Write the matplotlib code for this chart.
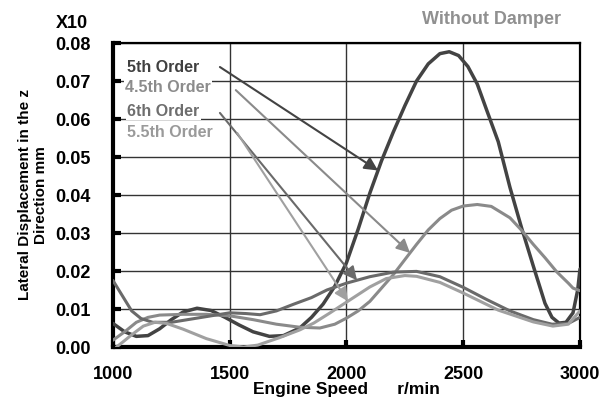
import numpy as np
import matplotlib
matplotlib.use("Agg")
import matplotlib.pyplot as plt

plt.rcParams['font.family'] = ['Liberation Sans', 'DejaVu Sans']
plt.rcParams['font.weight'] = 'bold'

# ---- data (engine speed r/min, lateral displacement mm x10) ----
x_5th = [1000, 1050, 1100, 1150, 1200, 1250, 1300, 1360, 1420, 1480, 1540, 1600, 1670, 1730,
         1800, 1850, 1900, 1950, 2000, 2050, 2100, 2150, 2200, 2250, 2300, 2350, 2400, 2440,
         2480, 2520, 2560, 2600, 2650, 2700, 2750, 2800, 2850, 2880, 2910, 2940, 2970, 2990, 3000]
y_5th = [0.0062, 0.0040, 0.0028, 0.0030, 0.0048, 0.0072, 0.0092, 0.0102, 0.0096, 0.0078,
         0.0058, 0.0040, 0.0028, 0.0030, 0.0050, 0.0078, 0.0113, 0.0160, 0.0222, 0.0310,
         0.0405, 0.0490, 0.0565, 0.0635, 0.0700, 0.0745, 0.0772, 0.0777, 0.0767, 0.0738,
         0.0692, 0.0624, 0.0540, 0.0420, 0.0313, 0.0213, 0.0115, 0.0078, 0.0063, 0.0065,
         0.0090, 0.0150, 0.0205]

x_45th = [1000, 1050, 1100, 1150, 1200, 1300, 1400, 1500, 1600, 1700, 1800, 1886, 1950, 2000,
          2050, 2100, 2150, 2200, 2250, 2300, 2350, 2400, 2450, 2500, 2560, 2620, 2700, 2750,
          2800, 2850, 2900, 2950, 2970, 3000]
y_45th = [0.0018, 0.0040, 0.0065, 0.0078, 0.0084, 0.0086, 0.0086, 0.0082, 0.0072, 0.0060,
          0.0052, 0.0050, 0.0060, 0.0076, 0.0095, 0.0120, 0.0155, 0.0190, 0.0230, 0.0270,
          0.0308, 0.0338, 0.0360, 0.0371, 0.0375, 0.0370, 0.0340, 0.0307, 0.0270, 0.0235,
          0.0198, 0.0168, 0.0155, 0.0148]

x_6th = [1000, 1040, 1080, 1120, 1170, 1250, 1350, 1450, 1500, 1570, 1630, 1700, 1771, 1850,
         1916, 2000, 2100, 2200, 2300, 2400, 2500, 2600, 2700, 2800, 2880, 2950, 3000]
y_6th = [0.0175, 0.0135, 0.0095, 0.0075, 0.0065, 0.0065, 0.0075, 0.0085, 0.0090, 0.0088,
         0.0085, 0.0095, 0.0112, 0.0130, 0.0150, 0.0168, 0.0185, 0.0197, 0.0199, 0.0185,
         0.0157, 0.0125, 0.0095, 0.0072, 0.0060, 0.0062, 0.0078]

x_55th = [1015, 1040, 1080, 1130, 1180, 1230, 1300, 1400, 1500, 1560, 1620, 1715, 1800, 1860,
          1930, 2000, 2100, 2170, 2250, 2300, 2400, 2500, 2650, 2800, 2884, 2950, 3000]
y_55th = [0.0000, 0.0012, 0.0032, 0.0055, 0.0065, 0.0062, 0.0047, 0.0022, 0.0004, 0.0000,
          0.0005, 0.0025, 0.0045, 0.0063, 0.0090, 0.0118, 0.0158, 0.0180, 0.0188, 0.0186,
          0.0170, 0.0142, 0.0097, 0.0066, 0.0055, 0.0060, 0.0095]

order_labels = ["5th Order", "4.5th Order", "6th Order", "5.5th Order"]
arrow_rpm = [2135, 2272, 2045, 2006]

x_ticks = [1000, 1500, 2000, 2500, 3000]
y_ticks = [0.00, 0.01, 0.02, 0.03, 0.04, 0.05, 0.06, 0.07, 0.08]

series = [(x_5th, y_5th), (x_45th, y_45th), (x_6th, y_6th), (x_55th, y_55th)]
colors = ['#434343', '#8a8a8a', '#6a6a6a', '#a0a0a0']
widths = [2.5, 2.2, 2.2, 2.2]
text_colors = ['#404040', '#8c8c8c', '#6e6e6e', '#9a9a9a']

fig = plt.figure(figsize=(5.99, 4.0), dpi=100)
ax = fig.add_axes([0.1886, 0.1325, 0.7797, 0.76])

ax.set_xlim(1000, 3000)
ax.set_ylim(0, 0.08)
ax.set_xticks(x_ticks)
ax.set_yticks(y_ticks)
ax.set_xticklabels([str(v) for v in x_ticks], fontsize=13, fontweight='bold')
ax.set_yticklabels([f"{v:.2f}" for v in y_ticks], fontsize=13, fontweight='bold')
ax.grid(True, color='#333333', linewidth=1.0)
ax.set_axisbelow(True)
ax.tick_params(axis='y', direction='in', length=6, width=3, pad=16)
ax.tick_params(axis='x', direction='in', length=5, width=3, pad=14)
for side in ['left', 'bottom']:
    ax.spines[side].set_linewidth(3)
for side in ['right', 'top']:
    ax.spines[side].set_linewidth(1.6)

for (xs, ys), c, w in zip(series, colors, widths):
    ax.plot(xs, ys, color=c, linewidth=w, solid_capstyle='round', zorder=3)

text_pos = [(0.030, 0.921), (0.026, 0.852), (0.030, 0.776), (0.030, 0.704)]
start_pos = [(0.229, 0.921), (0.263, 0.845), (0.229, 0.770), (0.266, 0.704)]
for (xs, ys), lab, tc, c, tp, sp, r in zip(series, order_labels, text_colors, colors,
                                           text_pos, start_pos, arrow_rpm):
    ax.text(tp[0], tp[1], lab, transform=ax.transAxes, fontsize=11.5, fontweight='bold',
            color=tc, ha='left', va='center', zorder=5,
            bbox=dict(facecolor='white', edgecolor='none', pad=1.0))
    yt = float(np.interp(r, xs, ys))
    ax.annotate('', xy=(r, yt), xycoords='data', xytext=sp, textcoords='axes fraction',
                arrowprops=dict(arrowstyle='-|>', color=c, lw=1.5, mutation_scale=20,
                                shrinkA=0, shrinkB=0), zorder=4)

ax.set_xlabel("Engine Speed      r/min", fontsize=12.5, fontweight='bold')
ax.xaxis.set_label_coords(0.5, -0.115)
ax.set_ylabel("Lateral Displacement in the z\nDirection mm", fontsize=11,
              fontweight='bold', linespacing=1.15)
ax.yaxis.set_label_coords(-0.14, 0.5)

fig.text(72 / 599, 1 - 23 / 400, "X10", fontsize=13, fontweight='bold', ha='center', va='center')
fig.text(491 / 599, 1 - 20 / 400, "Without Damper", fontsize=13, fontweight='bold',
         color='#909090', ha='center', va='center')

fig.savefig("out.png", dpi=100)
